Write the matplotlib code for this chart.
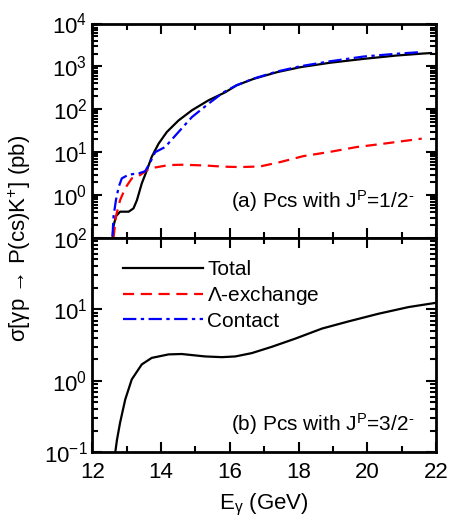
import numpy as np
import matplotlib.pyplot as plt
from matplotlib.ticker import LogLocator, MultipleLocator, NullFormatter

plt.rcParams['font.family'] = ['Liberation Sans', 'DejaVu Sans']
plt.rcParams['mathtext.fontset'] = 'custom'
plt.rcParams['mathtext.rm'] = 'Liberation Sans'
plt.rcParams['mathtext.it'] = 'Liberation Sans:italic'

# (a) J^P = 1/2^
e_tot_a = [12.59, 12.62, 12.69, 12.81, 12.95, 13.06, 13.2, 13.3, 13.44, 13.59, 13.73, 13.93,
           14.17, 14.51, 14.9, 15.38, 15.87, 16.2, 16.69, 17.37, 18.05, 18.92, 19.89, 20.86,
           21.63, 21.85]
s_tot_a = [0.1, 0.19, 0.32, 0.41, 0.41, 0.41, 0.49, 0.76, 1.86, 3.8, 7.8, 15.8,
           29.6, 55, 95, 162, 250, 363, 512, 734, 960, 1220, 1500, 1800,
           2000, 2050]
e_lam_a = [12.62, 12.69, 12.81, 12.96, 13.15, 13.35, 13.59, 13.83, 14.22, 14.6, 15.28, 15.82,
           16.3, 16.88, 17.47, 18.14, 18.92, 19.69, 20.37, 21.05, 21.58]
s_lam_a = [0.1, 0.32, 0.76, 1.45, 2.45, 2.77, 3.8, 4.4, 5.0, 5.1, 4.9, 4.6,
           4.5, 4.65, 5.9, 8.1, 10.2, 13.2, 15.4, 18.2, 20.7]
e_con_a = [12.59, 12.62, 12.69, 12.77, 12.86, 13.06, 13.35, 13.54, 13.69, 13.83, 14.12, 14.51,
           14.9, 15.38, 15.82, 16.2, 16.69, 17.37, 18.05, 18.92, 19.89, 20.86, 21.53]
s_con_a = [0.11, 0.32, 0.76, 1.55, 2.45, 3.0, 3.2, 3.6, 5.9, 10, 13.2, 29.6,
           66, 135, 250, 365, 520, 760, 1010, 1320, 1700, 1980, 2150]

# (b) J^P = 3/2^-
e_tot_b = [12.67, 12.72, 12.81, 12.96, 13.15, 13.44, 13.73, 14.22, 14.6, 15.28, 15.77, 16.16,
           16.64, 17.22, 17.9, 18.68, 19.45, 20.32, 21.2, 22.0]
s_tot_b = [0.1, 0.15, 0.26, 0.55, 1.05, 1.7, 2.1, 2.35, 2.38, 2.2, 2.15, 2.2,
           2.45, 3.0, 3.9, 5.4, 6.8, 8.7, 10.8, 12.4]

dash_lam = (0, (5, 3))
dash_con = (0, (6, 2, 1.5, 2))

fig, (ax1, ax2) = plt.subplots(2, 1, figsize=(4.52, 5.23), dpi=100, sharex=True)
fig.subplots_adjust(left=0.204, right=0.965, top=0.955, bottom=0.135, hspace=0)

ax1.plot(e_tot_a, s_tot_a, color='black', lw=1.6)
ax1.plot(e_lam_a, s_lam_a, color='red', lw=1.6, ls=dash_lam)
ax1.plot(e_con_a, s_con_a, color='blue', lw=1.6, ls=dash_con)

ax2.plot(e_tot_b, s_tot_b, color='black', lw=1.6, label='Total')
ax2.plot([], [], color='red', lw=1.6, ls=dash_lam, label=r'$\mathregular{\Lambda}$-exchange')
ax2.plot([], [], color='blue', lw=1.6, ls=dash_con, label='Contact')

for ax, lo, hi in [(ax1, 0.1, 1e4), (ax2, 0.1, 1e2)]:
    ax.set_yscale('log')
    ax.set_ylim(lo, hi)
    ax.set_xlim(12, 22)
    ax.xaxis.set_major_locator(MultipleLocator(2))
    ax.xaxis.set_minor_locator(MultipleLocator(1))
    ax.tick_params(which='both', direction='in', top=True, right=True, labelsize=16, width=1.5)
    ax.tick_params(axis='x', pad=7)
    ax.tick_params(which='major', length=7)
    ax.tick_params(which='minor', length=4)
    for s in ax.spines.values():
        s.set_linewidth(2)

ax1.set_yticks([1e0, 1e1, 1e2, 1e3, 1e4])
ax2.set_yticks([1e-1, 1e0, 1e1, 1e2])
for ax in (ax1, ax2):
    ax.yaxis.set_minor_locator(LogLocator(base=10, subs=np.arange(2, 10), numticks=10))
    ax.yaxis.set_minor_formatter(NullFormatter())

ax1.text(0.937, 0.17, r'(a) Pcs with J$^{\mathregular{P}}$=1/2$^{\text{-}}$', transform=ax1.transAxes,
         ha='right', va='center', fontsize=15)
ax2.text(0.937, 0.13, r'(b) Pcs with J$^{\mathregular{P}}$=3/2$^{\text{-}}$', transform=ax2.transAxes,
         ha='right', va='center', fontsize=15)

ax2.legend(loc='upper left', frameon=False, fontsize=15, handlelength=3.85, handletextpad=0.2,
           borderaxespad=0.0, borderpad=0.2, labelspacing=0.22, bbox_to_anchor=(0.077, 0.915))

ax2.set_xlabel(r'E$_{\mathregular{\gamma}}$ (GeV)', fontsize=16, labelpad=6)
fig.supylabel(r'σ[γp → P(cs)K$^{\mathregular{+}}$] (pb)', fontsize=16, x=0.015, y=0.545)

fig.savefig('out.png', dpi=100)
